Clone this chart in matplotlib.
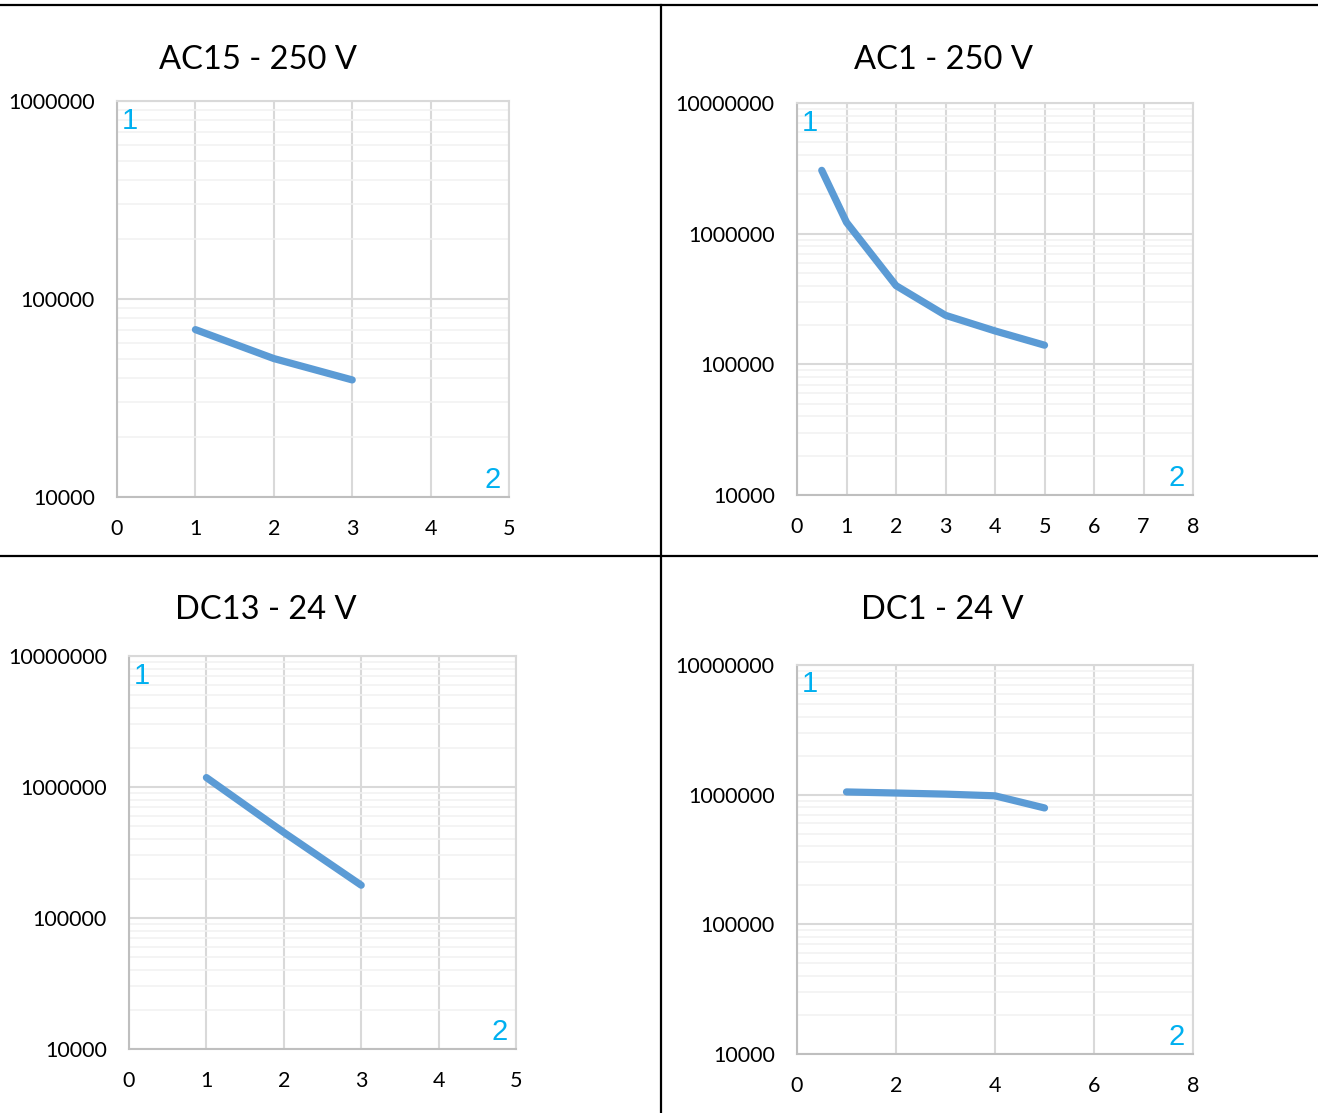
import matplotlib
matplotlib.use("Agg")
import matplotlib.pyplot as plt
from matplotlib.lines import Line2D

# data
titles = ["AC15 - 250 V", "AC1 - 250 V", "DC13 - 24 V", "DC1 - 24 V"]

ac15_x = [1, 2, 3]
ac15_y = [70000, 50000, 39000]

ac1_x = [0.5, 1, 2, 3, 4, 5]
ac1_y = [3050000, 1220000, 400000, 237000, 180000, 140000]

dc13_x = [1, 2, 3]
dc13_y = [1180000, 450000, 178000]

dc1_x = [1, 2, 3, 4, 5]
dc1_y = [1050000, 1030000, 1010000, 980000, 790000]

xmax = [5, 8, 5, 8]
xstep = [1, 1, 1, 2]
ymax = [1000000, 10000000, 10000000, 10000000]
ymin = 10000

# axes boxes in figure fraction [left, bottom, width, height]
boxes = [
    [0.0888, 0.5535, 0.2974, 0.3558],
    [0.6047, 0.5553, 0.3005, 0.3522],
    [0.0979, 0.0575, 0.2936, 0.3531],
    [0.6047, 0.0530, 0.3005, 0.3495],
]
title_pos = [(258, 60), (943, 60), (266, 610), (942, 610)]

LINE = "#5B9BD5"
CYAN = "#00B0F0"
FONT = "Lato"

fig = plt.figure(figsize=(13.18, 11.13), dpi=100)
W, H = 1318, 1113

series = [(ac15_x, ac15_y), (ac1_x, ac1_y), (dc13_x, dc13_y), (dc1_x, dc1_y)]

for i, (xs, ys) in enumerate(series):
    ax = fig.add_axes(boxes[i])
    ax.set_yscale("log")
    ax.set_xlim(0, xmax[i])
    ax.set_ylim(ymin, ymax[i])

    # minor gridlines first, then major
    ax.grid(True, which="minor", axis="y", color="#F2F2F2", lw=1.2, zorder=0)
    ax.grid(True, which="major", axis="y", color="#D9D9D9", lw=1.5, zorder=0)
    ax.grid(True, which="major", axis="x", color="#D9D9D9", lw=1.5, zorder=0)
    ax.set_axisbelow(True)

    xt = list(range(0, xmax[i] + 1, xstep[i]))
    ax.set_xticks(xt)
    ax.set_xticklabels([str(v) for v in xt], fontsize=15.5, family=FONT)

    yt = [10 ** k for k in range(4, 8) if 10 ** k <= ymax[i]]
    ax.set_yticks(yt)
    ax.set_yticklabels([str(v) for v in yt], fontsize=15.5, family=FONT)

    ax.tick_params(axis="both", which="both", length=0)
    ax.tick_params(axis="x", pad=16)
    ax.tick_params(axis="y", pad=16)

    for s in ["top", "right"]:
        ax.spines[s].set_color("#D9D9D9")
        ax.spines[s].set_linewidth(1.5)
    for s in ["left", "bottom"]:
        ax.spines[s].set_color("#BFBFBF")
        ax.spines[s].set_linewidth(1.5)

    ax.plot(xs, ys, color=LINE, lw=5.2, solid_capstyle="round",
            solid_joinstyle="round", zorder=3)

    ax.text(0.033, 0.95, "1", transform=ax.transAxes, color=CYAN,
            fontsize=21, ha="center", va="center", family="Liberation Sans")
    ax.text(0.958, 0.043, "2", transform=ax.transAxes, color=CYAN,
            fontsize=21, ha="center", va="center", family="Liberation Sans")

    tx, ty = title_pos[i]
    fig.text(tx / W, 1 - ty / H, titles[i], fontsize=23.5, family=FONT,
             ha="center", va="center", color="black")

# table borders
def hline(y, x0=0, x1=W):
    fig.add_artist(Line2D([x0 / W, x1 / W], [1 - y / H, 1 - y / H],
                          transform=fig.transFigure, color="black", lw=1.6))

def vline(x, y0=0, y1=H):
    fig.add_artist(Line2D([x / W, x / W], [1 - y0 / H, 1 - y1 / H],
                          transform=fig.transFigure, color="black", lw=1.6))

hline(5)
hline(556)
vline(661, 5, H)

fig.savefig("out.png", dpi=100)
